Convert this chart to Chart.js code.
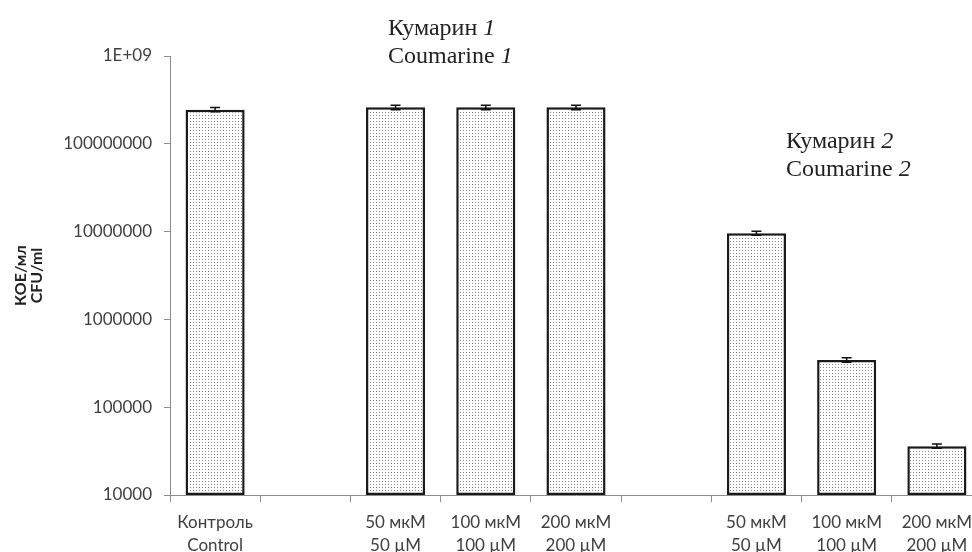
<!DOCTYPE html>
<html>
<head>
<meta charset="utf-8">
<script src="https://cdn.jsdelivr.net/npm/chart.js@4.4.0/dist/chart.umd.min.js"></script>
<style>
html, body { margin: 0; padding: 0; background: #fff; overflow: hidden; }
#wrap { width: 985px; height: 552px; }
</style>
</head>
<body>
<div id="wrap"><canvas id="chart" width="985" height="552"></canvas></div>
<script>
// категории (пустые — промежутки между группами)
const labels = [
  ["Контроль", "Control"],
  "",
  ["50 мкМ", "50 µM"],
  ["100 мкМ", "100 µM"],
  ["200 мкМ", "200 µM"],
  "",
  ["50 мкМ", "50 µM"],
  ["100 мкМ", "100 µM"],
  ["200 мкМ", "200 µM"]
];

// КОЕ/мл и погрешность
const cfu = [2.45e8, null, 2.6e8, 2.6e8, 2.6e8, null, 9.6e6, 3.45e5, 3.6e4];
const cfuErr = [1.4e7, null, 1.5e7, 1.5e7, 1.5e7, null, 5e5, 2e4, 2e3];

// ось Y
const yTicks = [1e4, 1e5, 1e6, 1e7, 1e8, 1e9];
const yTickLabels = ["10000", "100000", "1000000", "10000000", "100000000", "1E+09"];

// подписи групп
const groupNotes = [
  { ru: "Кумарин ", en: "Coumarine ", num: "1" },
  { ru: "Кумарин ", en: "Coumarine ", num: "2" }
];

const ctx = document.getElementById("chart").getContext("2d");

// точечная заливка
function dotPattern() {
  const c = document.createElement("canvas");
  c.width = 3; c.height = 3;
  const g = c.getContext("2d");
  g.fillStyle = "#ffffff";
  g.fillRect(0, 0, 3, 3);
  g.fillStyle = "#8a8a8a";
  g.fillRect(1, 1, 1, 1);
  return ctx.createPattern(c, "repeat");
}

// планки погрешностей
const errorBars = {
  id: "errorBars",
  afterDatasetsDraw(chart) {
    const c = chart.ctx;
    const x = chart.scales.x, y = chart.scales.y;
    c.save();
    c.strokeStyle = "#111";
    c.lineWidth = 1.5;
    cfu.forEach((v, i) => {
      if (v == null) return;
      const cx = x.getPixelForValue(i);
      const top = y.getPixelForValue(v + cfuErr[i]);
      const bot = y.getPixelForValue(v - cfuErr[i]);
      c.beginPath();
      c.moveTo(cx, top); c.lineTo(cx, bot);
      c.moveTo(cx - 5, top); c.lineTo(cx + 5, top);
      c.moveTo(cx - 5, bot); c.lineTo(cx + 5, bot);
      c.stroke();
    });
    c.restore();
  }
};

// подписи "Кумарин 1 / 2"
const notes = {
  id: "notes",
  afterDraw(chart) {
    const c = chart.ctx;
    const pos = [{ x: 388, y: 35 }, { x: 786, y: 148 }];
    c.save();
    c.fillStyle = "#222";
    c.textBaseline = "alphabetic";
    groupNotes.forEach((n, k) => {
      const p = pos[k];
      [n.ru, n.en].forEach((t, j) => {
        const yy = p.y + j * 28;
        c.font = "24px 'Liberation Serif'";
        c.fillText(t, p.x, yy);
        const w = c.measureText(t).width;
        c.font = "italic 24px 'Liberation Serif'";
        c.fillText(n.num, p.x + w, yy);
      });
    });
    c.restore();
  }
};

new Chart(ctx, {
  type: "bar",
  data: {
    labels: labels,
    datasets: [{
      data: cfu,
      backgroundColor: dotPattern(),
      borderColor: "#1a1a1a",
      borderWidth: 2.5,
      borderSkipped: false,
      barPercentage: 0.655,
      categoryPercentage: 1
    }]
  },
  options: {
    responsive: false,
    animation: false,
    layout: { padding: { top: 56, right: 3, left: 0, bottom: 0 } },
    plugins: {
      legend: { display: false },
      tooltip: { enabled: false }
    },
    scales: {
      x: {
        grid: { offset: true, drawOnChartArea: false, tickLength: 7, color: "#8c8c8c" },
        border: { color: "#8c8c8c" },
        ticks: {
          color: "#404040",
          font: { family: "Lato", size: 17, lineHeight: 1.35 },
          maxRotation: 0,
          autoSkip: false,
          padding: 9
        },
        afterFit: s => { s.height = 57; }
      },
      y: {
        type: "logarithmic",
        min: 1e4,
        max: 1e9,
        afterBuildTicks: s => { s.ticks = yTicks.map(v => ({ value: v })); },
        grid: { drawOnChartArea: false, tickLength: 6, color: "#8c8c8c" },
        border: { color: "#8c8c8c" },
        ticks: {
          color: "#404040",
          font: { family: "Lato", size: 17 },
          padding: 12,
          callback: (v, i) => yTickLabels[i]
        },
        title: {
          display: true,
          text: ["КОЕ/мл", "CFU/ml"],
          color: "#222",
          font: { family: "Lato", size: 16, weight: "bold", lineHeight: 1.05 },
          padding: { top: 12, bottom: 0 }
        },
        afterFit: s => { s.width = 170; }
      }
    }
  },
  plugins: [errorBars, notes]
});
</script>
</body>
</html>
